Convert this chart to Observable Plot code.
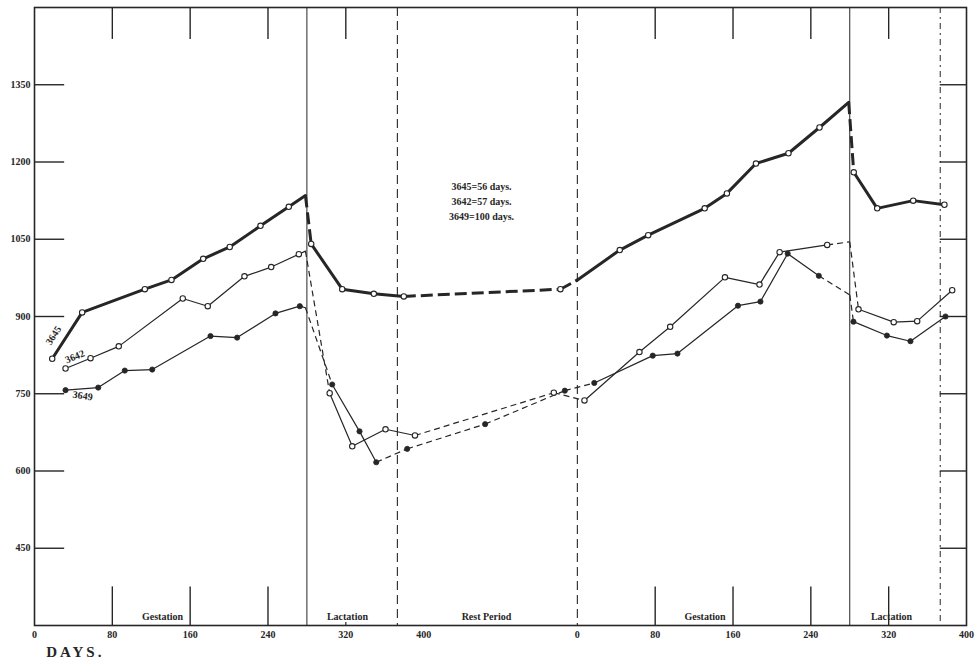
<!DOCTYPE html>
<html>
<head>
<meta charset="utf-8">
<script src="https://cdn.jsdelivr.net/npm/d3@7"></script>
<script src="https://cdn.jsdelivr.net/npm/@observablehq/plot@0.6"></script>
<style>
html, body { margin: 0; padding: 0; background: #fff; }
svg { display: block; }
</style>
</head>
<body>
<script>
// ---- Axis / layout data ----
const cycle2Start = 558; // chart day at which the second gestation begins
const xTickDays   = [0, 80, 160, 240, 320, 400, 558, 638, 718, 798, 878, 958];
const xTickLabels = ["0", "80", "160", "240", "320", "400", "0", "80", "160", "240", "320", "400"];
const yTicks = [450, 600, 750, 900, 1050, 1200, 1350];
const topTickDays = [80, 160, 240, 320, 638, 718, 798, 878];
const bottomTickDays = [80, 160, 240, 638, 718, 798, 878];
const phaseNames = ["Gestation", "Lactation", "Rest Period", "Gestation", "Lactation"];
const phaseBoundaryDays  = [280, 373, 558, 838, 931];
const phaseBoundaryKinds = ["birth", "weaning", "mating", "birth", "weaning"];
const restNotes = ["3645=56 days.", "3642=57 days.", "3649=100 days."];
const cowIds = ["3645", "3642", "3649"];

// ---- Cow 3645 ----
const day3645    = [18.2, 49.0, 113.4, 140.8, 173.4, 200.7, 232.3, 261.4, 278.5, 284.4, 316.3, 348.8, 379.6, 540.6, 558.1, 601.6, 630.8, 688.9, 711.7, 741.6, 775.0, 806.9, 836.9, 842.1, 866.2, 903.2, 935.3];
const weight3645 = [818, 908, 953, 971, 1012, 1035, 1076, 1113, 1135, 1041, 953, 944, 939, 953, 971, 1029, 1058, 1110, 1139, 1197, 1217, 1267, 1316, 1180, 1110, 1125, 1117];
const weighed3645 = [1,1,1,1,1,1,1,1,0,1,1,1,1,1,0,1,1,1,1,1,1,1,0,1,1,1,1];
const bridged3645 = [0,0,0,0,0,0,0,0,0,1,0,0,0,1,1,0,0,0,0,0,0,0,0,1,0,0,0];

// ---- Cow 3642 ----
const day3642    = [31.9, 57.6, 86.6, 152.4, 178.1, 215.8, 243.3, 271.7, 278.5, 303.4, 326.6, 360.8, 391.1, 533.8, 565.3, 621.8, 653.4, 709.7, 745.2, 765.9, 814.8, 838.0, 847.0, 883.2, 907.3, 943.3];
const weight3642 = [799, 819, 842, 935, 920, 978, 996, 1021, 1027, 751, 648, 681, 669, 752, 737, 831, 880, 976, 962, 1025, 1039, 1045, 914, 889, 891, 951];
const weighed3642 = [1,1,1,1,1,1,1,1,0,1,1,1,1,1,1,1,1,1,1,1,1,0,1,1,1,1];
const bridged3642 = [0,0,0,0,0,0,0,0,0,1,0,0,0,1,1,0,0,0,0,0,0,1,1,0,0,0];

// ---- Cow 3649 ----
const day3649    = [31.9, 65.5, 92.8, 121.0, 180.9, 208.3, 247.7, 272.7, 278.5, 306.0, 334.1, 351.3, 383.1, 463.2, 545.1, 575.4, 635.5, 660.9, 723.1, 746.2, 774.2, 806.2, 838.0, 841.8, 876.2, 900.4, 936.4];
const weight3649 = [757, 762, 795, 797, 862, 859, 906, 920, 917, 768, 677, 617, 643, 691, 756, 771, 824, 828, 921, 929, 1022, 979, 942, 890, 863, 852, 900];
const weighed3649 = [1,1,1,1,1,1,1,1,0,1,1,1,1,1,1,1,1,1,1,1,1,1,0,1,1,1,1];
const bridged3649 = [0,0,0,0,0,0,0,0,0,1,0,0,1,1,1,1,0,0,0,0,0,0,1,1,0,0,0];

// ---- Build tables ----
function points(id, days, weights, weighed) {
  return days.map((d, i) => ({id, day: d, weight: weights[i], weighed: !!weighed[i]}));
}
function segments(id, days, weights, bridged) {
  const out = [];
  for (let i = 1; i < days.length; i++) {
    out.push({id, x1: days[i - 1], y1: weights[i - 1], x2: days[i], y2: weights[i], bridged: !!bridged[i]});
  }
  return out;
}
const pts3645 = points("3645", day3645, weight3645, weighed3645);
const pts3642 = points("3642", day3642, weight3642, weighed3642);
const pts3649 = points("3649", day3649, weight3649, weighed3649);
const seg3645 = segments("3645", day3645, weight3645, bridged3645);
const seg3642 = segments("3642", day3642, weight3642, bridged3642);
const seg3649 = segments("3649", day3649, weight3649, bridged3649);
const thinSegs = seg3642.concat(seg3649);

const ink = "#262626";
const tickTable = xTickDays.map((d, i) => ({day: d, label: xTickLabels[i]}));
const boundaries = phaseBoundaryDays.map((d, i) => ({day: d, kind: phaseBoundaryKinds[i]}));

const chart = Plot.plot({
  width: 975,
  height: 662,
  marginLeft: 34,
  marginRight: 9,
  marginTop: 7,
  marginBottom: 37,
  x: {domain: [0, 958], axis: null},
  y: {domain: [300, 1500], axis: null},
  style: {fontFamily: "'Liberation Serif', 'DejaVu Serif', serif", background: "#fff", color: ink},
  marks: [
    Plot.frame({stroke: ink, strokeWidth: 1.6}),
    // phase boundary lines
    Plot.ruleX(boundaries.filter(b => b.kind === "birth"), {x: "day", stroke: ink, strokeWidth: 1}),
    Plot.ruleX(boundaries.filter(b => b.kind === "mating" || (b.kind === "weaning" && b.day < cycle2Start)), {x: "day", stroke: ink, strokeWidth: 1.1, strokeDasharray: "9,5"}),
    Plot.ruleX(boundaries.filter(b => b.kind === "weaning" && b.day > cycle2Start), {x: "day", stroke: ink, strokeWidth: 1, strokeDasharray: "6,4,2,4"}),
    // top ticks
    Plot.ruleX(topTickDays, {x: d => d, y1: 1500, y2: 1438, stroke: ink, strokeWidth: 1.4}),
    // bottom ticks
    Plot.ruleX(bottomTickDays, {x: d => d, y1: 300, y2: 375, stroke: ink, strokeWidth: 1.4}),
    Plot.ruleX([320], {x: d => d, y1: 300, y2: 306, stroke: ink, strokeWidth: 1.2}),
    // y ticks (left and right, inward)
    Plot.ruleY(yTicks, {y: d => d, x1: 0, x2: 31, stroke: ink, strokeWidth: 1.4}),
    Plot.ruleY(yTicks, {y: d => d, x1: 931, x2: 958, stroke: ink, strokeWidth: 1.4}),
    Plot.text(yTicks, {x: 0, y: d => d, text: d => String(d), dx: -4, textAnchor: "end", fontSize: 10, fontWeight: "bold", fill: ink}),
    // x tick labels
    Plot.text(tickTable, {x: "day", y: 300, text: "label", dy: 9, fontSize: 10, fontWeight: "bold", fill: ink}),
    Plot.text(["DAYS."], {x: 12, y: 300, dy: 27, text: d => d, textAnchor: "start", fontSize: 15, fontWeight: "bold", fill: ink}),
    // phase labels
    Plot.text(phaseNames, {x: [131.6, 321.7, 464.6, 689.2, 880.9], y: 316, text: d => d, fontSize: 10, fontWeight: "bold", fill: ink}),
    // rest-period note
    Plot.text(restNotes, {x: 459.5, y: [1152, 1122, 1093], text: d => d, fontSize: 10, fontWeight: "bold", fill: ink}),
    // series lines: thin cows
    Plot.link(thinSegs.filter(s => !s.bridged), {x1: "x1", y1: "y1", x2: "x2", y2: "y2", stroke: ink, strokeWidth: 1.2, strokeLinecap: "round"}),
    Plot.link(thinSegs.filter(s => s.bridged), {x1: "x1", y1: "y1", x2: "x2", y2: "y2", stroke: ink, strokeWidth: 1.2, strokeDasharray: "6,4"}),
    // thick cow 3645
    Plot.link(seg3645.filter(s => !s.bridged), {x1: "x1", y1: "y1", x2: "x2", y2: "y2", stroke: ink, strokeWidth: 3, strokeLinecap: "round"}),
    Plot.link(seg3645.filter(s => s.bridged), {x1: "x1", y1: "y1", x2: "x2", y2: "y2", stroke: ink, strokeWidth: 3, strokeDasharray: "12,5"}),
    // markers
    Plot.dot(pts3645.concat(pts3642).filter(p => p.weighed), {x: "day", y: "weight", r: 2.7, fill: "#fff", stroke: ink, strokeWidth: 1.1}),
    Plot.dot(pts3649.filter(p => p.weighed), {x: "day", y: "weight", r: 2.6, fill: ink, stroke: ink, strokeWidth: 0.8}),
    // cow labels
    Plot.text([cowIds[0]], {x: 19.5, y: 863, text: d => d, rotate: -57, fontSize: 10, fontWeight: "bold", fill: ink}),
    Plot.text([cowIds[1]], {x: 41.5, y: 822, text: d => d, rotate: -22, fontSize: 10, fontWeight: "bold", fill: ink}),
    Plot.text([cowIds[2]], {x: 49.5, y: 746, text: d => d, rotate: 8, fontSize: 10, fontWeight: "bold", fill: ink})
  ]
});
document.body.appendChild(chart);
d3.select(chart).selectAll("text").filter(function () { return this.textContent === "DAYS."; }).attr("letter-spacing", "3px");
</script>
</body>
</html>
